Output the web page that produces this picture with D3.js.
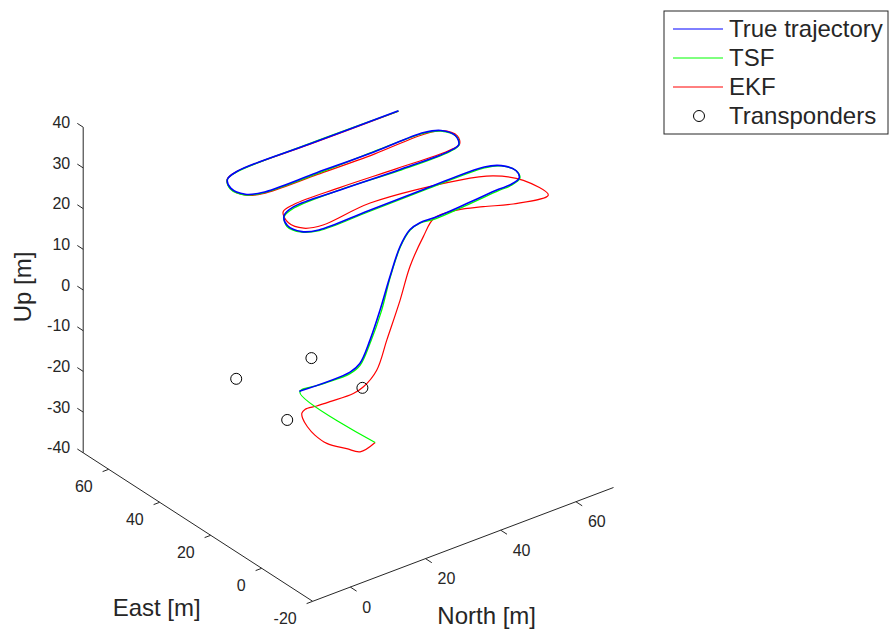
<html>
<head>
<meta charset="utf-8">
<script src="https://cdn.jsdelivr.net/npm/d3@7"></script>
<style>
body {
    margin: 0;
    background: white;
}
text {
    font-family: "Liberation Sans", Arial, Helvetica, sans-serif;
    fill: #262626;
}
.axis line {
    stroke: #262626;
    stroke-width: 1;
}
.traj {
    fill: none;
}
</style>
</head>
<body>
<div id="container"></div>

<script type="text/javascript">
// positions are [north, east, up] in metres
var trueTraj = [
    [0, 0, 0], [13.5, 0, 0], [16.1, 0, 1.2], [18.8, 0, 6], [21.5, 0, 12.5],
    [24.1, 0, 19.7], [26.8, 0, 26.2], [29.4, 0, 29.4], [32.1, 0, 30.2], [36, 0, 30.1],
    [44, 0, 30.5], [53, 0, 31.1],
    [56, 0, 31.1], [59.5, 1.5, 31], [61, 5, 30.9], [59.5, 8.5, 31.2], [56, 10, 31.5],
    [40, 10, 31.6], [25, 10, 31.5], [12, 10, 31.4],
    [8.5, 11.5, 31.6], [7, 15, 32.2], [8.5, 18.5, 32.7], [12, 20, 33],
    [25, 20, 32.8], [40, 20, 32.3], [53.5, 20, 32.2],
    [57, 21.5, 32], [58.5, 25, 32.2], [57, 28.5, 32.6], [53.5, 30, 32.7],
    [40, 30, 32.6], [25, 30, 32.8], [10.5, 30, 33],
    [7, 31.5, 33.2], [5.5, 35, 33.8], [7, 38.5, 34], [10.5, 40, 34.1],
    [30, 40, 34.1], [53.5, 40, 34]
];

var tsfTraj = [
    [10, -15, -10], [0.3, 0.2, -0.4], [6, 0.3, -0.5], [13.6, 0.3, -0.6], [16.3, 0.2, 0.6],
    [19, 0, 5.6], [21.7, -0.2, 12.2], [24.2, 0, 19.6], [26.9, 0, 26.1], [29.5, 0.1, 29.2],
    [32.2, 0, 30.1], [36, -0.3, 29.9], [44, -0.4, 30.4], [53, -0.2, 30.9],
    [56, -0.2, 31], [59.6, 1.4, 30.9], [61.1, 5, 30.8], [59.5, 8.6, 31.1], [56, 9.9, 31.3],
    [40, 9.8, 31.5], [25, 9.9, 31.3], [12, 9.8, 31.3],
    [8.4, 11.5, 31.5], [6.9, 15, 32], [8.5, 18.4, 32.5], [12, 19.8, 32.8],
    [25, 19.9, 32.9], [40, 19.8, 32.2], [53.5, 19.9, 32.1],
    [57.1, 21.5, 31.9], [58.6, 25, 32.1], [57, 28.6, 32.4], [53.5, 29.9, 32.6],
    [40, 30, 32.7], [25, 29.9, 32.6], [10.5, 29.9, 32.9],
    [7, 31.5, 33], [5.4, 35, 33.6], [7, 38.6, 33.9], [10.5, 40, 34],
    [30, 40, 34.2], [53.5, 40, 33.9]
];

var ekfTraj = [
    [10, -15, -10], [6, -15, -10.9], [3.1, -14, -9.5], [-1.5, -13, -7], [-4, -12, -4.5],
    [-5.3, -11, -2.4], [-5.9, -10, -0.5], [-6.1, -10, 0.8], [-4.6, -9, 0.8], [-0.8, -8, -0.1],
    [3.4, -7, -0.9], [10.3, -6, -1.7], [13, -6, -1], [17.2, -5, 1.2], [19.9, -5, 7.7],
    [24.1, -4, 15.6], [27.4, -3, 22.3], [31.6, -2, 27.7], [35.5, -0.5, 30.3],
    [41.8, -0.2, 30], [47.1, -2.7, 30], [52.8, -6, 30], [61, -7.7, 30],
    [59.6, 0, 31], [55.7, 6, 31], [49, 9.3, 31], [28, 13.5, 31], [14.4, 11.9, 31],
    [10, 13, 31.3], [8.3, 16.5, 31.8], [9.6, 20.5, 32.4], [13, 21.2, 32.8],
    [25, 21, 32.8], [40, 20.8, 32.3], [53.5, 20.6, 32],
    [57.4, 21.8, 31.8], [59, 25, 32], [57.4, 28.8, 32.3], [53.5, 30, 32.3],
    [40, 29.6, 32.3], [25, 29.7, 32.5], [10.5, 29.8, 32.8],
    [7, 31.4, 33], [5.4, 35, 33.7], [7, 38.6, 34], [10.5, 40, 34.1],
    [30, 40, 34], [53.5, 40, 33.9]
];

var transponders = [
    [-10, 10, 2.5], [10, 10, 0.6], [10, -10, 1.4], [-10, -10, 0.5]
];

var northTicks = [0, 20, 40, 60];
var eastTicks = [-20, 0, 20, 40, 60];
var upTicks = [-40, -30, -20, -10, 0, 10, 20, 30, 40];

var series = [
    { name: "True trajectory", data: trueTraj, color: "#0000ff", width: 1.6 },
    { name: "TSF", data: tsfTraj, color: "#00ff00", width: 1.3 },
    { name: "EKF", data: ekfTraj, color: "#ff0000", width: 1.2 }
];

var width = 892;
var height = 632;

var svg = d3.select("#container").append("svg")
    .attr("width", width)
    .attr("height", height);

// box limits -> [0,1], then onto the screen vectors of the 3d view
var sN = d3.scaleLinear().domain([-10, 70]).range([0, 1]);
var sE = d3.scaleLinear().domain([-20, 70]).range([0, 1]);
var sU = d3.scaleLinear().domain([-40, 40]).range([0, 1]);

var corner = [312.7, 601.3];
var vN = [300.8, -113.8];
var vE = [-229.5, -148.5];
var vU = [0, -325.6];

function project(p) {
    var a = sN(p[0]), b = sE(p[1]), c = sU(p[2]);
    return [corner[0] + a * vN[0] + b * vE[0] + c * vU[0],
            corner[1] + a * vN[1] + b * vE[1] + c * vU[1]];
}

function unit(v) {
    var l = Math.sqrt(v[0] * v[0] + v[1] * v[1]);
    return [v[0] / l, v[1] / l];
}

var uN = unit(vN);
var uE = unit(vE);

// axes
var axes = svg.append("g").attr("class", "axis");

function axisLine(p0, p1) {
    var a = project(p0), b = project(p1);
    axes.append("line")
        .attr("x1", a[0]).attr("y1", a[1])
        .attr("x2", b[0]).attr("y2", b[1]);
}

axisLine([-10, -20, -40], [70, -20, -40]);
axisLine([-10, -20, -40], [-10, 70, -40]);
axisLine([-10, 70, -40], [-10, 70, 40]);

northTicks.forEach(function(t) {
    var p = project([t, -20, -40]);
    axes.append("line")
        .attr("x1", p[0]).attr("y1", p[1])
        .attr("x2", p[0] - uE[0] * 7.5).attr("y2", p[1] - uE[1] * 7.5);
    axes.append("text")
        .attr("x", p[0] + 12)
        .attr("y", p[1] + 20)
        .attr("dy", "0.35em")
        .attr("font-size", 16)
        .text(t);
});

eastTicks.forEach(function(t) {
    var p = project([-10, t, -40]);
    axes.append("line")
        .attr("x1", p[0]).attr("y1", p[1])
        .attr("x2", p[0] - uN[0] * 6.5).attr("y2", p[1] - uN[1] * 6.5);
    axes.append("text")
        .attr("x", p[0] - 16)
        .attr("y", p[1] + 17)
        .attr("dy", "0.35em")
        .attr("text-anchor", "end")
        .attr("font-size", 16)
        .text(t);
});

upTicks.forEach(function(t) {
    var p = project([-10, 70, t]);
    axes.append("line")
        .attr("x1", p[0]).attr("y1", p[1])
        .attr("x2", p[0] + uE[0] * 7).attr("y2", p[1] + uE[1] * 7);
    axes.append("text")
        .attr("x", p[0] - 13)
        .attr("y", p[1] - 5)
        .attr("dy", "0.35em")
        .attr("text-anchor", "end")
        .attr("font-size", 16)
        .text(t);
});

svg.append("text")
    .attr("x", 486.7).attr("y", 624)
    .attr("text-anchor", "middle")
    .attr("font-size", 24)
    .text("North [m]");

svg.append("text")
    .attr("x", 156.7).attr("y", 615.5)
    .attr("text-anchor", "middle")
    .attr("font-size", 24)
    .text("East [m]");

svg.append("text")
    .attr("transform", "translate(31,287) rotate(-90)")
    .attr("text-anchor", "middle")
    .attr("font-size", 24)
    .text("Up [m]");

// trajectories, drawn so the true one ends on top
var line = d3.line()
    .x(function(d) { return project(d)[0]; })
    .y(function(d) { return project(d)[1]; })
    .curve(d3.curveCatmullRom.alpha(0.5));

svg.selectAll("path.traj")
    .data(series.slice().reverse())
    .enter()
    .append("path")
    .attr("class", "traj")
    .attr("stroke", function(d) { return d.color; })
    .attr("stroke-width", function(d) { return d.width; })
    .attr("d", function(d) { return line(d.data); });

svg.selectAll("circle.tp")
    .data(transponders)
    .enter()
    .append("circle")
    .attr("class", "tp")
    .attr("cx", function(d) { return project(d)[0]; })
    .attr("cy", function(d) { return project(d)[1]; })
    .attr("r", 5.5)
    .attr("fill", "none")
    .attr("stroke", "black")
    .attr("stroke-width", 1);

// legend
var legend = svg.append("g").attr("transform", "translate(664,11)");

legend.append("rect")
    .attr("width", 224)
    .attr("height", 123)
    .attr("fill", "white")
    .attr("stroke", "#262626")
    .attr("stroke-width", 1);

var rows = legend.selectAll("g.row")
    .data(series.map(function(s) { return s.name; }).concat(["Transponders"]))
    .enter()
    .append("g")
    .attr("class", "row")
    .attr("transform", function(d, i) { return "translate(0," + (18 + i * 29) + ")"; });

rows.each(function(d, i) {
    var g = d3.select(this);
    if (i < series.length) {
        g.append("line")
            .attr("x1", 9).attr("x2", 59)
            .attr("y1", 0).attr("y2", 0)
            .attr("stroke", series[i].color)
            .attr("stroke-width", 1);
    } else {
        g.append("circle")
            .attr("cx", 35).attr("cy", 0)
            .attr("r", 5.5)
            .attr("fill", "none")
            .attr("stroke", "black");
    }
    g.append("text")
        .attr("x", 65)
        .attr("dy", "0.35em")
        .attr("font-size", 24)
        .text(d);
});
</script>
</body>
</html>
